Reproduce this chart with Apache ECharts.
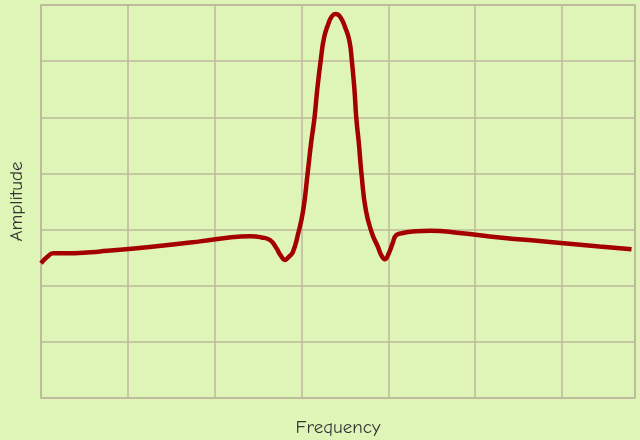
<!DOCTYPE html>
<html>
<head>
<meta charset="utf-8">
<script src="https://cdn.jsdelivr.net/npm/echarts@6/dist/echarts.min.js"></script>
<style>
html,body{margin:0;padding:0;background:#dff5b8;}
#chart{width:640px;height:440px;}
</style>
</head>
<body>
<div id="chart"></div>
<script>
const frequency = [0.00,0.07,0.14,0.22,0.39,0.68,1.25,1.83,2.17,2.41,2.54,2.64,2.71,2.76,2.81,2.85,2.90,2.96,3.02,3.07,3.11,3.15,3.18,3.22,3.26,3.31,3.35,3.39,3.44,3.50,3.55,3.58,3.61,3.63,3.66,3.69,3.74,3.81,3.88,3.92,3.96,4.00,4.05,4.09,4.17,4.25,4.48,4.82,5.28,5.86,6.43,6.80];
const amplitude = [2.40,2.51,2.58,2.58,2.58,2.61,2.69,2.79,2.86,2.88,2.86,2.81,2.67,2.54,2.46,2.51,2.60,2.92,3.35,4.00,4.54,5.00,5.48,6.00,6.42,6.67,6.80,6.84,6.80,6.61,6.37,6.00,5.48,5.00,4.54,4.00,3.35,2.94,2.69,2.54,2.47,2.56,2.76,2.90,2.94,2.96,2.98,2.94,2.86,2.78,2.70,2.65];
const xName = 'Frequency';
const yName = 'Amplitude';

const chart = echarts.init(document.getElementById('chart'), null, {renderer:'canvas'});
const gridColor = '#bdb99c';
const fontFam = "'Humor Sans','Comic Sans MS','Comic Neue','Lato','DejaVu Sans',sans-serif";
chart.setOption({
  backgroundColor: '#dff5b8',
  animation: false,
  grid: {left: 41, right: 5, top: 5, bottom: 42, containLabel: false, outerBoundsMode: 'none', show: true, borderColor: gridColor, borderWidth: 1.5},
  xAxis: {
    type: 'value', min: 0, max: 6.84, interval: 1,
    name: xName, nameLocation: 'middle', nameGap: 20,
    nameTextStyle: {fontFamily: fontFam, fontSize: 19, color: '#333333'},
    axisLine: {show: false}, axisTick: {show: false}, axisLabel: {show: false},
    splitLine: {show: true, lineStyle: {color: gridColor, width: 1.5}}
  },
  yAxis: {
    type: 'value', min: 0, max: 7, interval: 1,
    name: yName, nameLocation: 'middle', nameGap: 15,
    nameTextStyle: {fontFamily: fontFam, fontSize: 19, color: '#333333'},
    axisLine: {show: false}, axisTick: {show: false}, axisLabel: {show: false},
    splitLine: {show: true, lineStyle: {color: gridColor, width: 1.5}}
  },
  series: [{
    type: 'line',
    data: frequency.map((f, i) => [f, amplitude[i]]),
    smooth: 0.5,
    showSymbol: false,
    lineStyle: {color: '#a50000', width: 4.5}
  }]
});
</script>
</body>
</html>
